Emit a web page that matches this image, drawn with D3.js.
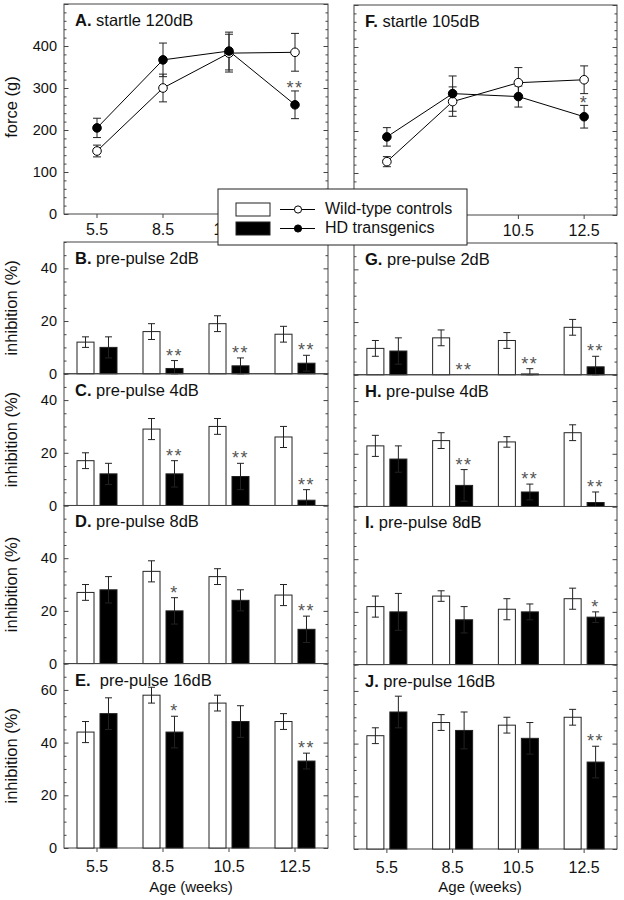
<!DOCTYPE html>
<html>
<head>
<meta charset="utf-8">
<script src="https://cdn.jsdelivr.net/npm/d3@7"></script>
<style>
  body { margin: 0; background: #fff; }
</style>
</head>
<body>
<div id="chart"></div>
<script>
const ages = ["5.5", "8.5", "10.5", "12.5"];

// A. startle 120dB, force (g)
const forceA_wt = [150, 300, 383, 385];
const forceA_wtErr = [14, 33, 45, 45];
const forceA_hd = [205, 367, 388, 260];
const forceA_hdErr = [23, 40, 45, 33];
const starsA = ["", "", "", "**"];

// F. startle 105dB
const forceF_wt = [127, 270, 315, 322];
const forceF_wtErr = [12, 35, 36, 33];
const forceF_hd = [186, 289, 282, 234];
const forceF_hdErr = [22, 42, 25, 27];
const starsF = ["", "", "", "*"];

// inhibition (%) - left column
const ppB_wt = [12, 16, 19, 15];
const ppB_wtErr = [2, 3, 3, 3];
const ppB_hd = [10, 2, 3, 4];
const ppB_hdErr = [4, 3, 3, 3];
const starsB = ["", "**", "**", "**"];

const ppC_wt = [17, 29, 30, 26];
const ppC_wtErr = [3, 4, 3, 4];
const ppC_hd = [12, 12, 11, 2];
const ppC_hdErr = [4, 5, 5, 4];
const starsC = ["", "**", "**", "**"];

const ppD_wt = [27, 35, 33, 26];
const ppD_wtErr = [3, 4, 3, 4];
const ppD_hd = [28, 20, 24, 13];
const ppD_hdErr = [5, 5, 4, 5];
const starsD = ["", "*", "", "**"];

const ppE_wt = [44, 58, 55, 48];
const ppE_wtErr = [4, 3, 3, 3];
const ppE_hd = [51, 44, 48, 33];
const ppE_hdErr = [6, 6, 6, 3];
const starsE = ["", "*", "", "**"];

// inhibition (%) - right column
const ppG_wt = [10, 14, 13, 18];
const ppG_wtErr = [3, 3, 3, 3];
const ppG_hd = [9, 0, 0.3, 3];
const ppG_hdErr = [5, 0, 2, 4];
const starsG = ["", "**", "**", "**"];

const ppH_wt = [23, 25, 24.5, 28];
const ppH_wtErr = [4, 3, 2, 3];
const ppH_hd = [18, 8, 5.5, 1.5];
const ppH_hdErr = [5, 6, 3, 4];
const starsH = ["", "**", "**", "**"];

const ppI_wt = [22, 26, 21, 25];
const ppI_wtErr = [4, 2, 4, 4];
const ppI_hd = [20, 17, 20, 18];
const ppI_hdErr = [7, 5, 3, 2];
const starsI = ["", "", "", "*"];

const ppJ_wt = [43, 48, 47, 50];
const ppJ_wtErr = [3, 3, 3, 3];
const ppJ_hd = [52, 45, 42, 33];
const ppJ_hdErr = [6, 7, 6, 6];
const starsJ = ["", "", "", "**"];

const legendLabels = ["Wild-type controls", "HD transgenics"];

const font = '"Liberation Sans", Arial, Helvetica, sans-serif';
const ink = "#222";

const svg = d3
  .select("#chart")
  .append("svg")
  .attr("width", 624)
  .attr("height", 900)
  .attr("font-family", font);

// little inward ticks on both sides of a frame
function tickMarks(x0, x1, y, step, major) {
  const [lo, hi] = y.domain();
  const vals = d3.range(lo, hi + 1e-6, step);
  const len = (d) => (d % major === 0 ? 4.5 : 2.5);
  svg
    .append("g")
    .attr("transform", `translate(${x0},0)`)
    .call(d3.axisRight(y).tickValues(vals).tickFormat(""))
    .call((g) => g.select(".domain").remove())
    .selectAll(".tick line")
    .attr("x2", len)
    .attr("stroke", "#444");
  svg
    .append("g")
    .attr("transform", `translate(${x1},0)`)
    .call(d3.axisLeft(y).tickValues(vals).tickFormat(""))
    .call((g) => g.select(".domain").remove())
    .selectAll(".tick line")
    .attr("x2", (d) => -len(d))
    .attr("stroke", "#444");
}

function frame(x0, x1, yt, yb) {
  svg
    .append("rect")
    .attr("x", x0)
    .attr("y", yt)
    .attr("width", x1 - x0)
    .attr("height", yb - yt)
    .attr("fill", "none")
    .attr("stroke", "#444")
    .attr("stroke-width", 1);
}

function yLabels(x0, y, vals) {
  const g = svg
    .append("g")
    .attr("transform", `translate(${x0},0)`)
    .call(d3.axisLeft(y).tickValues(vals).tickSize(0).tickPadding(7));
  g.select(".domain").remove();
  g.attr("font-size", 14.5).attr("font-family", font);
  g.selectAll("text").attr("fill", "#111");
}

// tick marks under every age, labels only where the reference shows them
function xAxis(x, yb, pad, shown) {
  const g = svg
    .append("g")
    .attr("transform", `translate(0,${yb})`)
    .call(
      d3
        .axisBottom(x)
        .tickSize(4)
        .tickPadding(pad)
        .tickFormat((d) => (shown.includes(d) ? d : ""))
    );
  g.select(".domain").remove();
  g.attr("font-size", 16).attr("font-family", font);
  g.selectAll("line").attr("stroke", "#444");
  g.selectAll("text").attr("fill", "#111");
}

function title(x, y, letter, rest) {
  const t = svg
    .append("text")
    .attr("x", x)
    .attr("y", y)
    .attr("font-size", 16.5)
    .attr("fill", "#111")
    .attr("xml:space", "preserve");
  t.append("tspan").attr("font-weight", "bold").text(letter);
  t.append("tspan").text(rest);
}

function yTitle(x, y, txt) {
  svg
    .append("text")
    .attr("transform", `translate(${x},${y}) rotate(-90)`)
    .attr("text-anchor", "middle")
    .attr("font-size", 16.5)
    .attr("fill", "#111")
    .text(txt);
}

function stars(x, y, txt) {
  svg
    .append("text")
    .attr("x", x)
    .attr("y", y)
    .attr("text-anchor", "middle")
    .attr("font-size", 18)
    .attr("letter-spacing", 1.5)
    .attr("fill", "#555")
    .text(txt);
}

// error bar with caps; floor keeps the lower end from dipping under the axis
function errBar(x, y, v, e, cap, floor) {
  if (!e) return;
  const lo = Math.max(floor, v - e);
  const g = svg.append("g").attr("stroke", ink).attr("stroke-width", 1);
  g.append("line").attr("x1", x).attr("x2", x).attr("y1", y(lo)).attr("y2", y(v + e));
  [lo, v + e].forEach((k) => {
    g.append("line")
      .attr("x1", x - cap)
      .attr("x2", x + cap)
      .attr("y1", y(k))
      .attr("y2", y(k));
  });
}

function pointPanel(p) {
  const x = d3.scaleBand().domain(ages).range([p.x0, p.x1]);
  const y = d3.scaleLinear().domain([0, 500]).range([p.yb, p.yt]);
  const cx = (a) => x(a) + x.bandwidth() / 2;

  tickMarks(p.x0, p.x1, y, 20, 100);
  frame(p.x0, p.x1, p.yt, p.yb);
  if (p.labels) yLabels(p.x0, y, [0, 100, 200, 300, 400]);
  xAxis(x, p.yb, 6, p.shownAges);

  const series = [
    { vals: p.wt, errs: p.wtErr, fill: "#fff" },
    { vals: p.hd, errs: p.hdErr, fill: "#000" },
  ];
  series.forEach((s) => {
    ages.forEach((a, i) => errBar(cx(a), y, s.vals[i], s.errs[i], 4, 0));
  });
  series.forEach((s) => {
    const line = d3
      .line()
      .x((d, i) => cx(ages[i]))
      .y((d) => y(d));
    svg
      .append("path")
      .attr("d", line(s.vals))
      .attr("fill", "none")
      .attr("stroke", "#000")
      .attr("stroke-width", 1);
  });
  series.forEach((s) => {
    svg
      .append("g")
      .selectAll("circle")
      .data(s.vals)
      .enter()
      .append("circle")
      .attr("cx", (d, i) => cx(ages[i]))
      .attr("cy", (d) => y(d))
      .attr("r", 4.3)
      .attr("fill", s.fill)
      .attr("stroke", "#000")
      .attr("stroke-width", 1);
  });
  ages.forEach((a, i) => {
    if (p.stars[i]) stars(cx(a), y(p.hd[i] + p.hdErr[i]) + 3.5, p.stars[i]);
  });
  title(p.x0 + 11, p.yt + 22, p.letter, p.rest);
}

function barColumn(panels, x0, x1, top, bottom, labels, ageX) {
  const total = d3.sum(panels, (p) => p.ymax);
  const k = (bottom - top) / total;
  const x = d3.scaleBand().domain(ages).range([x0, x1]);
  const sub = d3.scaleBand().domain(["wt", "hd"]).range([-20, 20]).paddingInner(0.26);
  let yt = top;
  panels.forEach((p, pi) => {
    const yb = yt + p.ymax * k;
    const y = d3.scaleLinear().domain([0, p.ymax]).range([yb, yt]);
    tickMarks(x0, x1, y, 5, 20);
    frame(x0, x1, yt, yb);
    if (labels) {
      yLabels(x0, y, d3.range(0, p.ymax, 20));
      yTitle(17, (yt + yb) / 2, "inhibition (%)");
    }
    const groups = [
      { key: "wt", vals: p.wt, errs: p.wtErr, fill: "#fff" },
      { key: "hd", vals: p.hd, errs: p.hdErr, fill: "#000" },
    ];
    groups.forEach((s) => {
      svg
        .append("g")
        .selectAll("rect")
        .data(s.vals)
        .enter()
        .append("rect")
        .attr("x", (d, i) => x(ages[i]) + x.bandwidth() / 2 + sub(s.key))
        .attr("y", (d) => y(d))
        .attr("width", sub.bandwidth())
        .attr("height", (d) => yb - y(d))
        .attr("fill", s.fill)
        .attr("stroke", ink)
        .attr("stroke-width", 1);
      ages.forEach((a, i) =>
        errBar(
          x(a) + x.bandwidth() / 2 + sub(s.key) + sub.bandwidth() / 2,
          y,
          s.vals[i],
          s.errs[i],
          3.5,
          0
        )
      );
    });
    ages.forEach((a, i) => {
      if (p.stars[i])
        stars(
          x(a) + x.bandwidth() / 2 + sub("hd") + sub.bandwidth() / 2,
          y(p.hd[i] + p.hdErr[i]) + 1,
          p.stars[i]
        );
    });
    title(x0 + 11, yt + 22, p.letter, p.rest);
    if (pi === panels.length - 1) {
      xAxis(x, yb, 9, ages);
      svg
        .append("text")
        .attr("x", ageX)
        .attr("y", 892)
        .attr("text-anchor", "middle")
        .attr("font-size", 15)
        .attr("fill", "#111")
        .text("Age (weeks)");
    }
    yt = yb;
  });
}

// startle panels
pointPanel({
  x0: 64, x1: 328, yt: 4, yb: 214, labels: true, shownAges: ["5.5", "8.5", "10.5"],
  letter: "A.", rest: " startle 120dB",
  wt: forceA_wt, wtErr: forceA_wtErr, hd: forceA_hd, hdErr: forceA_hdErr, stars: starsA,
});
yTitle(17, 107, "force (g)");
pointPanel({
  x0: 354, x1: 617, yt: 5, yb: 215, labels: false, shownAges: ["10.5", "12.5"],
  letter: "F.", rest: " startle 105dB",
  wt: forceF_wt, wtErr: forceF_wtErr, hd: forceF_hd, hdErr: forceF_hdErr, stars: starsF,
});

// pre-pulse inhibition panels
barColumn(
  [
    { letter: "B.", rest: " pre-pulse 2dB", ymax: 50, wt: ppB_wt, wtErr: ppB_wtErr, hd: ppB_hd, hdErr: ppB_hdErr, stars: starsB },
    { letter: "C.", rest: " pre-pulse 4dB", ymax: 50, wt: ppC_wt, wtErr: ppC_wtErr, hd: ppC_hd, hdErr: ppC_hdErr, stars: starsC },
    { letter: "D.", rest: " pre-pulse 8dB", ymax: 60, wt: ppD_wt, wtErr: ppD_wtErr, hd: ppD_hd, hdErr: ppD_hdErr, stars: starsD },
    { letter: "E.", rest: "  pre-pulse 16dB", ymax: 70, wt: ppE_wt, wtErr: ppE_wtErr, hd: ppE_hd, hdErr: ppE_hdErr, stars: starsE },
  ],
  64, 328, 242, 848, true, 191
);
barColumn(
  [
    { letter: "G.", rest: " pre-pulse 2dB", ymax: 50, wt: ppG_wt, wtErr: ppG_wtErr, hd: ppG_hd, hdErr: ppG_hdErr, stars: starsG },
    { letter: "H.", rest: " pre-pulse 4dB", ymax: 50, wt: ppH_wt, wtErr: ppH_wtErr, hd: ppH_hd, hdErr: ppH_hdErr, stars: starsH },
    { letter: "I.", rest: " pre-pulse 8dB", ymax: 60, wt: ppI_wt, wtErr: ppI_wtErr, hd: ppI_hd, hdErr: ppI_hdErr, stars: starsI },
    { letter: "J.", rest: " pre-pulse 16dB", ymax: 70, wt: ppJ_wt, wtErr: ppJ_wtErr, hd: ppJ_hd, hdErr: ppJ_hdErr, stars: starsJ },
  ],
  354, 617, 243, 849, false, 480
);

// legend, drawn last so it sits over the frames
const legend = svg.append("g");
legend
  .append("rect")
  .attr("x", 218)
  .attr("y", 189)
  .attr("width", 249)
  .attr("height", 56)
  .attr("fill", "#fff")
  .attr("stroke", ink);
const legendRows = [
  { label: legendLabels[0], fill: "#fff", y: 209.5 },
  { label: legendLabels[1], fill: "#000", y: 228.5 },
];
legendRows.forEach((r) => {
  legend
    .append("rect")
    .attr("x", 236)
    .attr("y", r.y - 6.5)
    .attr("width", 34)
    .attr("height", 13)
    .attr("fill", r.fill)
    .attr("stroke", ink);
  legend
    .append("line")
    .attr("x1", 280)
    .attr("x2", 315)
    .attr("y1", r.y)
    .attr("y2", r.y)
    .attr("stroke", "#000");
  legend
    .append("circle")
    .attr("cx", 298)
    .attr("cy", r.y)
    .attr("r", 3.6)
    .attr("fill", r.fill)
    .attr("stroke", "#000");
  legend
    .append("text")
    .attr("x", 325)
    .attr("y", r.y + 4.5)
    .attr("font-size", 16)
    .attr("fill", "#111")
    .text(r.label);
});
</script>
</body>
</html>
